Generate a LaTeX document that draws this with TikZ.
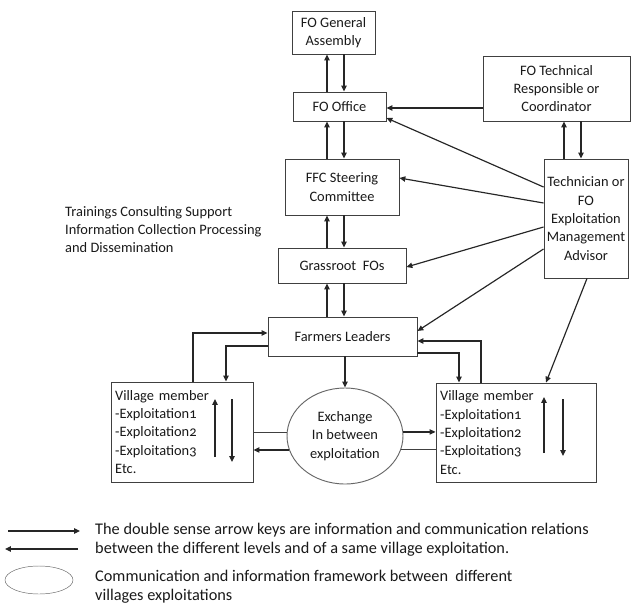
\documentclass[tikz,border=0pt]{standalone}
\usepackage{fontspec}
\setmainfont{Carlito}
\usetikzlibrary{arrows.meta,positioning,calc,shapes.geometric}

\newcommand{\oldnum}[1]{{\addfontfeatures{Numbers=OldStyle}#1}}

\begin{document}
\begin{tikzpicture}[x=0.03cm, y=-0.03cm,
    box/.style={draw=black!75, line width=0.8pt, align=center, inner sep=2pt,
        text=black!90, font=\fontsize{12.3}{15.6}\selectfont},
    sz/.style 2 args={minimum width=#1*0.03cm, minimum height=#2*0.03cm},
    village/.style={box, align=left, inner xsep=3.4pt},
    arr/.style={-{Triangle[length=5pt,width=4.5pt]}, line width=1pt, black!85},
    link/.style={line width=0.8pt, black!75},
    note/.style={text=black!90, align=left, inner sep=0pt}]
    \useasboundingbox (0,0) rectangle (633,605);

    % Levels of the organisation
    \node[box, sz={83}{43}] (assembly) at (333.5,32.5) {FO General\\Assembly};
    \node[box, sz={93}{29}] (office) at (339.5,106.5) {FO Office};
    \node[box, sz={147}{65}] (technical) at (556.5,88.5) {FO Technical\\Responsible or\\Coordinator};
    \node[box, sz={114}{56}] (steering) at (342,187) {FFC Steering\\Committee};
    \node[box, sz={84}{119}] (advisor) at (586,218.5) {Technician or\\FO\\Exploitation\\Management\\Advisor};
    \node[box, sz={128}{35}] (grassroot) at (342,265.5) {Grassroot\ \ FOs};
    \node[box, sz={149}{39}] (leaders) at (342.5,336.5) {Farmers Leaders};
    \node[box, ellipse, sz={116}{96}, draw=black!60] (exchange) at (345,436) {Exchange\\In between\\exploitation};

    % Village exploitations
    \node[village, sz={142}{100}, text width=114pt] (villageL) at (182,432)
        {Village member\\-Exploitation\oldnum{1}\\-Exploitation\oldnum{2}\\-Exploitation\oldnum{3}\\Etc.};
    \node[village, sz={160}{99}, text width=129.5pt] (villageR) at (516,432.5)
        {Village member\\-Exploitation\oldnum{1}\\-Exploitation\oldnum{2}\\-Exploitation\oldnum{3}\\Etc.};
    \draw[arr] (215,457) -- (215,399);
    \draw[arr] (232,399) -- (232,462);
    \draw[arr] (544,453) -- (544,397);
    \draw[arr] (563,399) -- (563,456);

    \node[note, anchor=west, font=\fontsize{12.3}{15.4}\selectfont] (services) at (65,230)
        {Trainings Consulting Support\\Information Collection Processing\\and Dissemination};

    % Up and down relations along the central column
    \coordinate (upx) at (327,0);
    \coordinate (dnx) at (344,0);
    \foreach \lo/\hi in {office/assembly, steering/office, grassroot/steering, leaders/grassroot} {
        \draw[arr] (\lo.north -| upx) -- (\hi.south -| upx);
        \draw[arr] (\hi.south -| dnx) -- (\lo.north -| dnx);
    }
    \draw[arr] (advisor.north -| 564,0) -- (technical.south -| 564,0);
    \draw[arr] (technical.south -| 581,0) -- (advisor.north -| 581,0);
    \draw[arr] (technical.west |- 0,108) -- (office.east |- 0,108);

    % Advisor to every level
    \draw[arr] (advisor.west |- 0,187) -- (office.east |- 0,118);
    \draw[arr] (advisor.west |- 0,203) -- (steering.east |- 0,178);
    \draw[arr] (advisor.west |- 0,227) -- (grassroot.east |- 0,267);
    \draw[arr] (advisor.west |- 0,249) -- (leaders.east |- 0,331);
    \draw[arr] (advisor.south -| 587,0) -- (villageR.north -| 546,0);

    % Farmers leaders and villages
    \draw[arr] (villageL.north -| 193,0) |- (leaders.west |- 0,333);
    \draw[arr] (leaders.west |- 0,346) -| (villageL.north -| 226,0);
    \draw[arr] (villageR.north -| 481,0) |- (leaders.east |- 0,341);
    \draw[arr] (leaders.east |- 0,353) -| (villageR.north -| 459,0);
    \draw[arr] (leaders.south -| exchange.north) -- (exchange.north);

    % Exchange between villages
    \draw[link] (villageL.east |- exchange.177) -- (exchange.177);
    \draw[arr] (exchange.194) -- (villageL.east |- exchange.194);
    \draw[arr] (exchange.4) -- (villageR.west |- exchange.4);
    \draw[link] (villageR.west |- exchange.346) -- (exchange.346);

    % Legend
    \draw[arr] (8,531) -- (80,531);
    \draw[arr] (78,549) -- (5,549);
    \node[note, anchor=west, font=\fontsize{13.9}{16.5}\selectfont] (keyarrows) at (95,540)
        {The double sense arrow keys are information and communication relations\\
         between the different levels and of a same village exploitation.};
    \draw[black!60] (39,580) ellipse (34 and 14);
    \node[note, anchor=west, font=\fontsize{13.9}{16.5}\selectfont] (keyring) at (95,586.5)
        {Communication and information framework between\ \ different\\villages exploitations};
\end{tikzpicture}
\end{document}
